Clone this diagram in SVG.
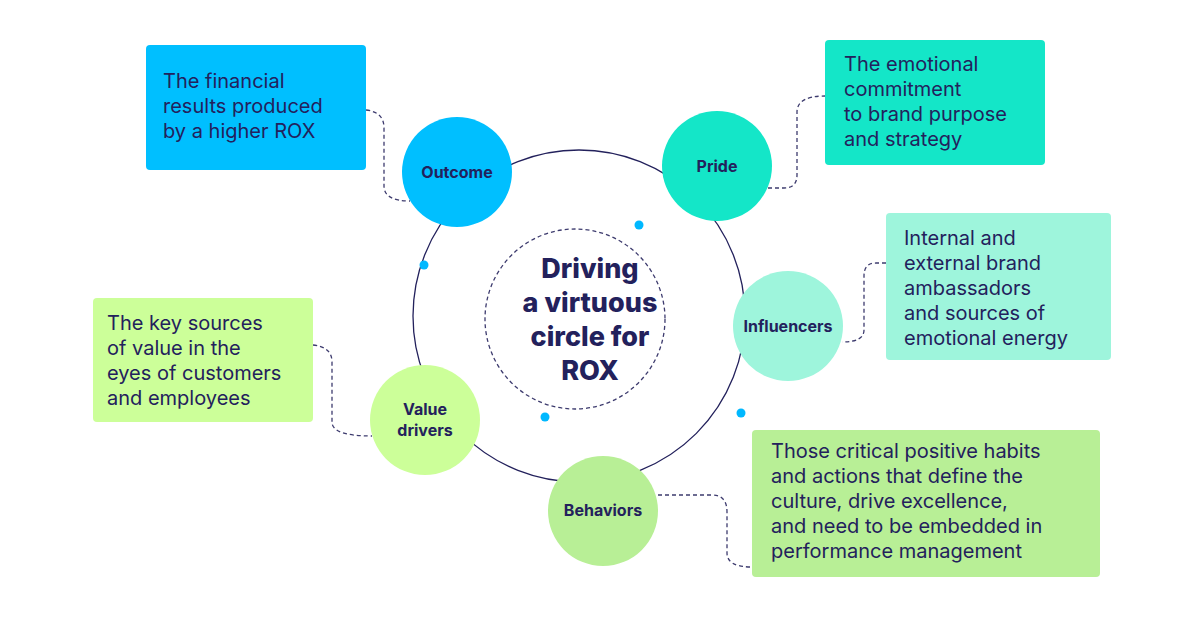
<svg xmlns="http://www.w3.org/2000/svg" width="1200" height="627" viewBox="0 0 1200 627">
<style>
.t{font-family:Inter,"Liberation Sans",sans-serif;font-size:20px;fill:#23215c}
.n{font-family:Inter,"Liberation Sans",sans-serif;font-size:16px;font-weight:700;fill:#23215c;text-anchor:middle}
.d{fill:none;stroke:#3d3b6e;stroke-width:1.3;stroke-dasharray:4 3}
.dot{fill:#00b8ff}
</style>
<rect width="1200" height="627" fill="#fff"/>
<g id="connectors">
<circle cx="579" cy="316" r="166" fill="none" stroke="#23215c" stroke-width="1.3"/>
<circle cx="575" cy="319" r="90" class="d"/>
<path class="d" d="M366 110 Q384 112 384 128 V186 Q384 201 410 201"/>
<path class="d" d="M768 188 H784 Q797 188 797 175 V112 Q797 96 825 96"/>
<path class="d" d="M886 263 H876 Q864 263 864 276 V330 Q864 342 842 342"/>
<path class="d" d="M313 345 Q332 347 332 362 V422 Q332 436 372 436"/>
<path class="d" d="M658 495 H712 Q727 495 727 512 V553 Q727 567 752 567"/>
<circle class="dot" cx="639" cy="225" r="4.5"/>
<circle class="dot" cx="424" cy="265" r="4.5"/>
<circle class="dot" cx="545" cy="417" r="4.5"/>
<circle class="dot" cx="741" cy="413" r="4.5"/>
</g>
<g id="center">
<text font-family="Inter,'Liberation Sans',sans-serif" font-size="27" font-weight="800" fill="#23215c" text-anchor="middle">
<tspan x="590" y="278">Driving</tspan><tspan x="590" y="312">a virtuous</tspan><tspan x="590" y="346">circle for</tspan><tspan x="590" y="380">ROX</tspan></text>
</g>
<g id="outcome">
<rect x="146" y="45" width="220" height="125" rx="4" fill="#00bfff"/>
<text class="t"><tspan x="163" y="88">The financial</tspan><tspan x="163" y="113">results produced</tspan><tspan x="163" y="138">by a higher ROX</tspan></text>
<circle cx="457" cy="172" r="55" fill="#00bfff"/>
<text class="n" x="457" y="178">Outcome</text>
</g>
<g id="pride">
<rect x="825" y="40" width="220" height="125" rx="4" fill="#14e6c8"/>
<text class="t"><tspan x="844" y="71">The emotional</tspan><tspan x="844" y="96">commitment</tspan><tspan x="844" y="121">to brand purpose</tspan><tspan x="844" y="146">and strategy</tspan></text>
<circle cx="717" cy="166" r="55" fill="#14e6c8"/>
<text class="n" x="717" y="172">Pride</text>
</g>
<g id="influencers">
<rect x="886" y="213" width="225" height="147" rx="4" fill="#9ef5dc"/>
<text class="t"><tspan x="904" y="245">Internal and</tspan><tspan x="904" y="270">external brand</tspan><tspan x="904" y="295">ambassadors</tspan><tspan x="904" y="320">and sources of</tspan><tspan x="904" y="345">emotional energy</tspan></text>
<circle cx="788" cy="326" r="55" fill="#9ef5dc"/>
<text class="n" x="788" y="332">Influencers</text>
</g>
<g id="valuedrivers">
<rect x="93" y="298" width="220" height="124" rx="4" fill="#ccff99"/>
<text class="t"><tspan x="107" y="330">The key sources</tspan><tspan x="107" y="355">of value in the</tspan><tspan x="107" y="380">eyes of customers</tspan><tspan x="107" y="405">and employees</tspan></text>
<circle cx="425" cy="420" r="55" fill="#ccff99"/>
<text class="n"><tspan x="425" y="415">Value</tspan><tspan x="425" y="436">drivers</tspan></text>
</g>
<g id="behaviors">
<rect x="752" y="430" width="348" height="147" rx="4" fill="#b8ef96"/>
<text class="t"><tspan x="771" y="458">Those critical positive habits</tspan><tspan x="771" y="483">and actions that define the</tspan><tspan x="771" y="508">culture, drive excellence,</tspan><tspan x="771" y="533">and need to be embedded in</tspan><tspan x="771" y="558">performance management</tspan></text>
<circle cx="603" cy="511" r="55" fill="#b8ef96"/>
<text class="n" x="603" y="516">Behaviors</text>
</g>
</svg>
